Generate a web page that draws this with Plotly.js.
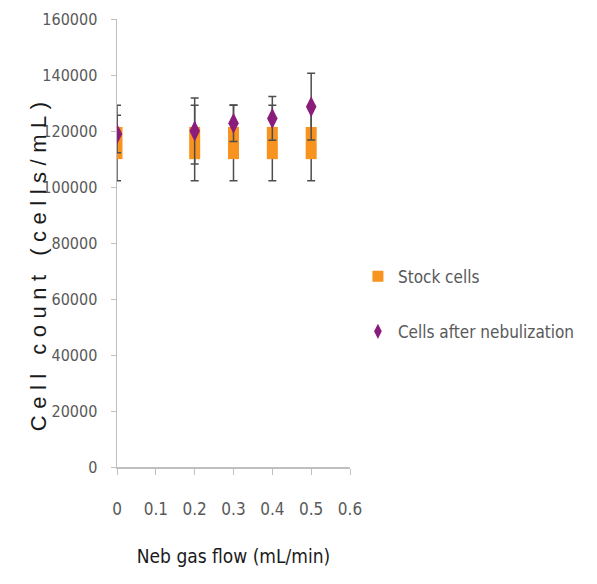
<!DOCTYPE html>
<html>
<head>
<meta charset="utf-8">
<script src="https://cdn.plot.ly/plotly-3.0.1.min.js"></script>
<style>
  html, body { margin: 0; padding: 0; background: #fff; }
  #chart { width: 597px; height: 584px; }
  .annotation-text { letter-spacing: 6.5px; }
</style>
</head>
<body>
<div id="chart"></div>
<script>
// Data
const gasFlow = [0, 0.2, 0.3, 0.4, 0.5];
const stockCells = [115700, 115700, 115700, 115700, 115700];
const stockErr = [13500, 13500, 13500, 13500, 13500];
const nebCells = [118900, 120000, 122750, 124500, 128700];
const nebErr = [6700, 11800, 6500, 7800, 11900];
const seriesNames = ['Stock cells', 'Cells after nebulization'];
const xTickVals = [0, 0.1, 0.2, 0.3, 0.4, 0.5, 0.6];
const xTickText = ['0', '0.1', '0.2', '0.3', '0.4', '0.5', '0.6'];
const yTickVals = [0, 20000, 40000, 60000, 80000, 100000, 120000, 140000, 160000];
const yTickText = ['0', '20000', '40000', '60000', '80000', '100000', '120000', '140000', '160000'];

const orange = '#F7931E';
const purple = '#8A1C7C';
const errColor = '#4d4d4d';
const narrow = '"DejaVu Sans Condensed", "Liberation Sans", sans-serif';

const traces = [
  {
    x: gasFlow, y: stockCells, type: 'scatter', mode: 'markers',
    name: seriesNames[0], showlegend: false,
    marker: { symbol: 'line-ns', size: 23, color: orange, line: { color: orange, width: 11 } },
    error_y: { type: 'data', array: stockErr, visible: true, color: errColor, thickness: 1.5, width: 4 }
  },
  {
    x: gasFlow, y: nebCells, type: 'scatter', mode: 'markers',
    name: seriesNames[1], showlegend: false,
    marker: { symbol: 'diamond-tall', size: 15, color: purple, line: { width: 0 } },
    error_y: { type: 'data', array: nebErr, visible: true, color: errColor, thickness: 1.5, width: 4 }
  },
  {
    x: [null], y: [null], type: 'scatter', mode: 'markers',
    name: seriesNames[0], legendgroup: 'a',
    marker: { symbol: 'square', size: 11, color: orange }
  },
  {
    x: [null], y: [null], type: 'scatter', mode: 'markers',
    name: seriesNames[1], legendgroup: 'b',
    marker: { symbol: 'diamond-tall', size: 11, color: purple }
  }
];

const layout = {
  width: 597, height: 584,
  margin: { l: 117, r: 247, t: 19, b: 117, pad: 0 },
  paper_bgcolor: '#ffffff', plot_bgcolor: '#ffffff',
  showlegend: true,
  font: { family: narrow, color: '#595959' },
  xaxis: {
    range: [0, 0.6], tickvals: xTickVals, ticktext: xTickText,
    showgrid: false, zeroline: false, showline: true,
    linecolor: '#bfbfbf', linewidth: 1.5,
    ticks: 'outside', ticklen: 6, tickwidth: 1, tickcolor: '#bfbfbf',
    ticklabelstandoff: 20,
    tickfont: { family: narrow, size: 17, color: '#595959' },
    title: { text: 'Neb gas flow (mL/min)', standoff: 32, font: { family: narrow, size: 19, color: '#1a1a1a' } },
    automargin: false
  },
  yaxis: {
    range: [0, 160000], tickvals: yTickVals, ticktext: yTickText,
    showgrid: false, zeroline: false, showline: true,
    linecolor: '#bfbfbf', linewidth: 1.5,
    ticks: 'outside', ticklen: 5, tickwidth: 1, tickcolor: '#bfbfbf',
    ticklabelstandoff: 10,
    tickfont: { family: narrow, size: 16, color: '#595959' },
    automargin: false
  },
  annotations: [{
    text: 'Cell count (cells/mL)', textangle: -90,
    xref: 'paper', yref: 'paper', x: -0.339, y: 0.455,
    xanchor: 'center', yanchor: 'middle', showarrow: false,
    font: { family: '"Liberation Sans", Arial, sans-serif', size: 22, color: '#1a1a1a' }
  }],
  legend: {
    x: 1.034, y: 0.465, xanchor: 'left', yanchor: 'top',
    traceorder: 'grouped', tracegroupgap: 30,
    bgcolor: 'rgba(0,0,0,0)', borderwidth: 0,
    font: { family: narrow, size: 17, color: '#595959' },
    itemwidth: 30
  }
};

Plotly.newPlot('chart', traces, layout, { displayModeBar: false, staticPlot: true });
</script>
</body>
</html>
